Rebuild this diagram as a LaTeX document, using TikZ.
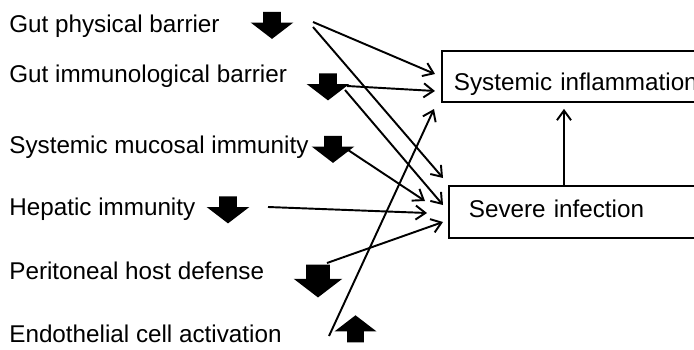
\documentclass[tikz,border=0pt]{standalone}
\usepackage{fontspec}
\setmainfont{Liberation Sans}
\usetikzlibrary{shapes.arrows,arrows.meta}

\begin{document}
\begin{tikzpicture}[x=0.02cm, y=-0.02cm,
		label_style/.style={anchor=base west,inner sep=0pt,font=\fontsize{13.8}{16}\selectfont},
		box_style/.style={draw=black,line width=1pt,anchor=base west,inner ysep=0pt,text depth=0pt,align=left,font=\fontsize{13.8}{16}\selectfont},
		block_style/.style={single arrow,fill=black,draw=none,inner sep=0.17cm,minimum height=0.54cm,minimum width=0.6cm,single arrow tip angle=105},
		edge_style/.style={draw=black,line width=1.1pt,-{Straight Barb[length=5.5pt,width=8pt]}}]
		
		\clip (0,0) rectangle (694,349);
		
		\node[label_style] (gpb) at (9,32)  {Gut physical barrier};
		\node[label_style] (gib) at (9,82)  {Gut immunological barrier};
		\node[label_style] (smi) at (9,153) {Systemic mucosal immunity};
		\node[label_style] (hep) at (9,215) {Hepatic immunity};
		\node[label_style] (phd) at (9,279) {Peritoneal host defense};
		\node[label_style] (eca) at (9,342) {Endothelial cell activation};
		
		\node[block_style,shape border rotate=270] (gpa) at (272,22)    {};
		\node[block_style,shape border rotate=270] (gia) at (328,83.5)  {};
		\node[block_style,shape border rotate=270] (sma) at (333,146)   {};
		\node[block_style,shape border rotate=270] (hpa) at (228,206.5) {};
		\node[block_style,shape border rotate=270,inner sep=0.23cm,minimum width=0.78cm] (pha) at (318,276.5) {};
		\node[block_style,shape border rotate=90,inner sep=0.16cm] (eaa) at (355.5,332) {};
		
		\node[box_style,inner xsep=0.24cm,minimum height=1.02cm,text height=0.54cm,text width=6cm] (infl) at (441,90) {Systemic inflammation};
		\node[box_style,inner xsep=0.4cm,minimum height=1.04cm,text height=0.2cm,text width=5cm] (sev) at (448,217) {Severe infection};
		
		% free ends
		\coordinate (gp1) at (313,22);
		\coordinate (gp2) at (313,27);
		\coordinate (gi1) at (347,86);
		\coordinate (gi2) at (345,90);
		\coordinate (sm1) at (348,150);
		\coordinate (hp1) at (268,207);
		\coordinate (ph1) at (327,263);
		\coordinate (ec1) at (329,336);
		\coordinate (in1) at (435,74);
		\coordinate (in2) at (435,91);
		\coordinate (in3) at (434,109);
		\coordinate (sv1) at (443,178);
		\coordinate (sv2) at (443,205);
		\coordinate (sv3) at (425,201);
		\coordinate (sv4) at (427,213);
		\coordinate (sv5) at (443,222);
		\coordinate (upx) at (564,0);
		
		\draw[edge_style] (gp1) -- (in1);
		\draw[edge_style] (gp2) -- (sv1);
		\draw[edge_style] (gi1) -- (in2);
		\draw[edge_style] (gi2) -- (sv2);
		\draw[edge_style] (sm1) -- (sv3);
		\draw[edge_style] (hp1) -- (sv4);
		\draw[edge_style] (ph1) -- (sv5);
		\draw[edge_style] (ec1) -- (in3);
		\draw[edge_style,shorten >=0.12cm] (sev.north -| upx) -- (infl.south -| upx);
		
\end{tikzpicture}
\end{document}
